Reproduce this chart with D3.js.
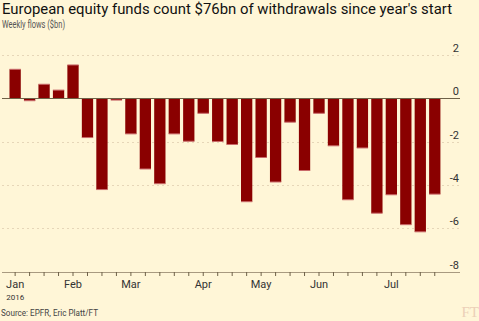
<!DOCTYPE html>
<html>
<head>
<meta charset="utf-8">
<script src="https://cdn.jsdelivr.net/npm/d3@7"></script>
<style>
  html, body { margin: 0; padding: 0; background: #fff6d7; }
  svg { display: block; font-family: Roboto, "Liberation Sans", sans-serif; }
</style>
</head>
<body>
<div id="chart"></div>
<script>
// weekly data, weeks ending Wednesday, 2016
const weeks = ["2016-01-06","2016-01-13","2016-01-20","2016-01-27","2016-02-03","2016-02-10",
  "2016-02-17","2016-02-24","2016-03-02","2016-03-09","2016-03-16","2016-03-23","2016-03-30",
  "2016-04-06","2016-04-13","2016-04-20","2016-04-27","2016-05-04","2016-05-11","2016-05-18",
  "2016-05-25","2016-06-01","2016-06-08","2016-06-15","2016-06-22","2016-06-29","2016-07-06",
  "2016-07-13","2016-07-20","2016-07-27"];
const flows = [1.34, -0.11, 0.65, 0.38, 1.54, -1.81, -4.21, -0.08, -1.64, -3.26,
  -3.94, -1.64, -1.98, -0.69, -1.99, -2.13, -4.77, -2.73, -3.86, -1.10,
  -3.33, -0.69, -2.19, -4.68, -2.29, -5.30, -4.45, -5.83, -6.16, -4.42];
const yTicks = [2, 0, -2, -4, -6, -8];
const monthLabels = ["Jan", "Feb", "Mar", "Apr", "May", "Jun", "Jul"];

const W = 479, H = 321;
const data = weeks.map((w, i) => ({ week: w, value: flows[i] }));

const svg = d3.select("#chart").append("svg")
  .attr("width", W).attr("height", H);

svg.append("rect").attr("width", W).attr("height", H).attr("fill", "#fff6d7");

const x = d3.scaleBand()
  .domain(weeks)
  .range([7.9, 442])
  .paddingInner(0.22)
  .paddingOuter(0.11);

const y = d3.scaleLinear()
  .domain([-8, 2])
  .range([271.7, 55]);

const gridLeft = 2, gridRight = 460;

// gridlines
svg.append("g")
  .selectAll("line")
  .data(yTicks.filter(d => d !== 0 && d !== -8))
  .join("line")
  .attr("x1", gridLeft).attr("x2", gridRight)
  .attr("y1", d => Math.round(y(d)) + 0.5).attr("y2", d => Math.round(y(d)) + 0.5)
  .attr("stroke", "#e6d6b8")
  .attr("stroke-dasharray", "2,3");

// y tick labels (right, above lines)
svg.append("g")
  .selectAll("text")
  .data(yTicks)
  .join("text")
  .attr("x", 459)
  .attr("y", d => y(d) - 3)
  .attr("text-anchor", "end")
  .attr("font-size", 11)
  .attr("fill", "#333")
  .text(d => d);

// bars
svg.append("g")
  .selectAll("rect")
  .data(data)
  .join("rect")
  .attr("x", d => x(d.week))
  .attr("y", d => y(Math.max(0, d.value)))
  .attr("width", x.bandwidth())
  .attr("height", d => Math.abs(y(d.value) - y(0)))
  .attr("fill", "#8a0000");

// lighter edge at bar ends
svg.append("g")
  .selectAll("line")
  .data(data)
  .join("line")
  .attr("x1", d => x(d.week)).attr("x2", d => x(d.week) + x.bandwidth())
  .attr("y1", d => y(d.value)).attr("y2", d => y(d.value))
  .attr("stroke", "#c96a6a")
  .attr("stroke-width", 1);

// zero line
svg.append("line")
  .attr("x1", gridLeft).attr("x2", gridRight)
  .attr("y1", Math.round(y(0)) + 0.5).attr("y2", Math.round(y(0)) + 0.5)
  .attr("stroke", "#6e6148").attr("stroke-width", 1);

// x axis
const seen = new Set();
const firstWeeks = [];
weeks.forEach(w => {
  const m = w.slice(5, 7);
  if (!seen.has(m)) { seen.add(m); firstWeeks.push(w); }
});

const xAxis = svg.append("g")
  .attr("transform", `translate(0,${Math.round(y(-8))})`)
  .call(d3.axisBottom(x)
    .tickSize(4)
    .tickSizeOuter(0)
    .tickFormat(w => {
      const i = firstWeeks.indexOf(w);
      return i >= 0 ? monthLabels[i] : "";
    }));

xAxis.select(".domain").remove();
xAxis.insert("line", ":first-child")
  .attr("x1", gridLeft).attr("x2", gridRight)
  .attr("y1", 0.5).attr("y2", 0.5)
  .attr("stroke", "#a89a80");
xAxis.selectAll(".tick line").attr("stroke", "#6e6148");
xAxis.selectAll(".tick text")
  .attr("y", 8)
  .attr("font-size", 11)
  .attr("font-family", "Roboto, sans-serif")
  .attr("fill", "#333");

svg.append("text")
  .attr("x", x(weeks[0]) + x.bandwidth() / 2)
  .attr("y", 300)
  .attr("text-anchor", "middle")
  .attr("font-size", 8)
  .attr("fill", "#333")
  .text("2016");

// titles
svg.append("text")
  .attr("x", 2).attr("y", 14)
  .attr("font-size", 14.5)
  .attr("textLength", 450)
  .attr("lengthAdjust", "spacingAndGlyphs")
  .attr("fill", "#111")
  .text("European equity funds count $76bn of withdrawals since year's start");

svg.append("text")
  .attr("x", 2).attr("y", 28)
  .attr("font-size", 10)
  .attr("textLength", 63)
  .attr("lengthAdjust", "spacingAndGlyphs")
  .attr("fill", "#555")
  .text("Weekly flows ($bn)");

svg.append("text")
  .attr("x", 1).attr("y", 316)
  .attr("font-size", 9.5)
  .attr("textLength", 97)
  .attr("lengthAdjust", "spacingAndGlyphs")
  .attr("fill", "#444")
  .text("Source: EPFR, Eric Platt/FT");

svg.append("text")
  .attr("x", 479).attr("y", 317)
  .attr("text-anchor", "end")
  .attr("font-family", "'Liberation Serif', serif")
  .attr("font-size", 15)
  .attr("fill", "#ecd0b8")
  .text("FT");
</script>
</body>
</html>
